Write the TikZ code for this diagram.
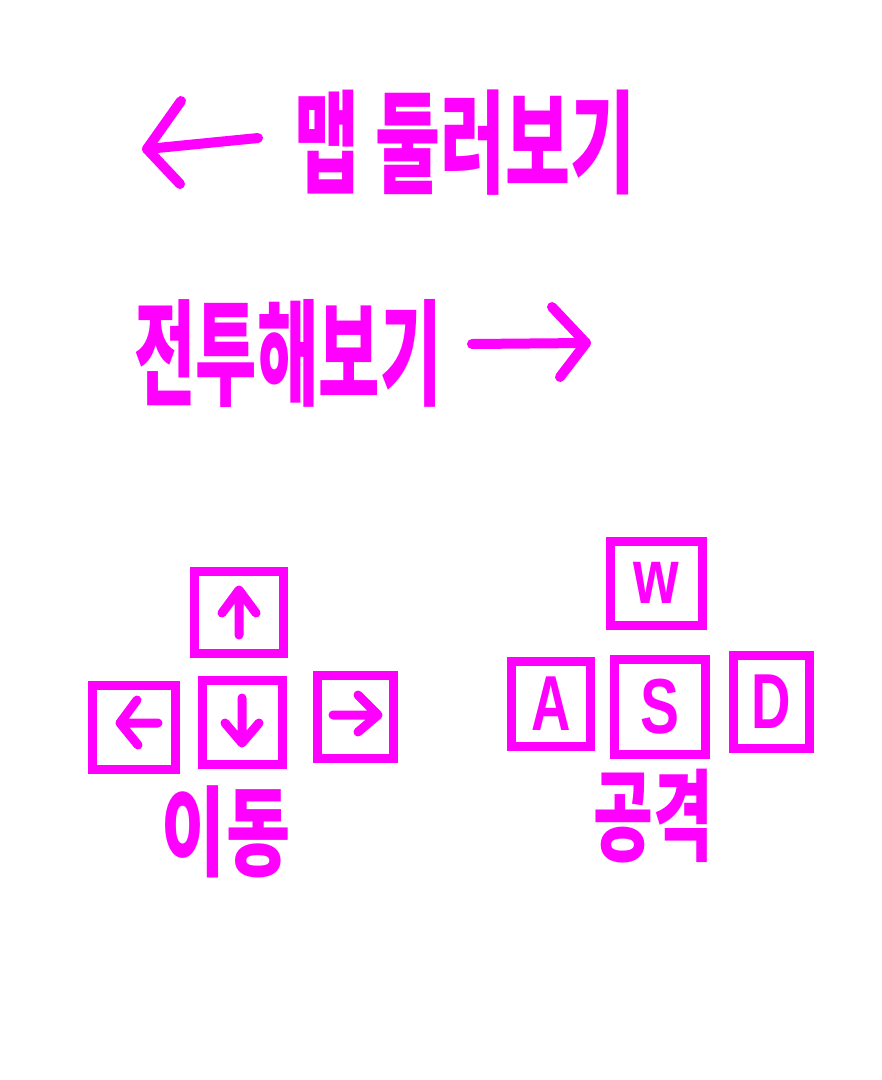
\documentclass[tikz,border=0pt]{standalone}
\usepackage{fontspec}
\usepackage{graphicx}
\newfontfamily\kr{Noto Sans CJK KR}
\setsansfont{Liberation Sans}
\definecolor{mag}{HTML}{FF00FF}
\begin{document}
\begin{tikzpicture}[x=1pt,y=-1pt,
  keybox/.style={draw=mag, line width=9pt, inner sep=0pt, text=mag, font=\sffamily\bfseries\fontsize{78}{78}\selectfont},
  krtext/.style={text=mag, inner sep=0pt, font=\kr\bfseries},
  bigarrow/.style={draw=mag, line width=10pt, line cap=round, line join=round},
  keyicon/.style={draw=mag, line width=9pt, line cap=round, line join=round}]
\useasboundingbox[fill=white] (0,0) rectangle (882,1080);

% top label with left arrow
\node[krtext] (map) at (465,143) {\fontsize{112}{112}\selectfont\scalebox{0.63}[1]{맵 둘러보기}};
\coordinate (la-tip) at (147,149);
\coordinate (la-end) at (258,138);
\coordinate (la-h1) at (181,101);
\coordinate (la-h2) at (180,184);
\draw[bigarrow] (la-end) -- (la-tip);
\draw[bigarrow] (la-h1) -- (la-tip) -- (la-h2);

% second label with right arrow
\node[krtext] (fight) at (288,353) {\fontsize{115}{115}\selectfont\scalebox{0.58}[1]{전투해보기}};
\coordinate (ra-start) at (472,344);
\coordinate (ra-tip) at (586,343);
\coordinate (ra-h1) at (552,307);
\coordinate (ra-h2) at (560,377);
\draw[bigarrow] (ra-start) -- (ra-tip);
\draw[bigarrow] (ra-h1) -- (ra-tip) -- (ra-h2);

% arrow keys
\node[keybox, minimum width=89pt, minimum height=82pt] (up) at (239,612) {};
\node[keybox, minimum width=83pt, minimum height=84pt] (left) at (134,727) {};
\node[keybox, minimum width=80pt, minimum height=84pt] (down) at (242,722) {};
\node[keybox, minimum width=76pt, minimum height=83pt] (right) at (355,717) {};

\draw[keyicon, shift={(up.center)}] (0,23) -- (0,-22) (-17,1) -- (0,-22) -- (17,1);
\draw[keyicon, shift={(left.center)}] (24,-4) -- (-14,-4) (3,-27) -- (-14,-4) -- (4,18);
\draw[keyicon, shift={(down.center)}] (0,-24) -- (0,21) (-17,1) -- (0,21) -- (17,1);
\draw[keyicon, shift={(right.center)}] (-22,-2) -- (23,-2) (3,-22) -- (23,-2) -- (3,15);

\node[krtext] (move) at (226,832) {\fontsize{98}{98}\selectfont\scalebox{0.71}[1]{이동}};

% WASD keys
\node[keybox, minimum width=92pt, minimum height=84pt] (w) at (656,583) {\scalebox{0.75}[1]{w}};
\node[keybox, minimum width=79pt, minimum height=85pt] (a) at (551,704) {\scalebox{0.7}[1]{A}};
\node[keybox, minimum width=91pt, minimum height=95pt] (s) at (660,707) {\scalebox{0.75}[1]{S}};
\node[keybox, minimum width=76pt, minimum height=93pt] (d) at (771,702) {\scalebox{0.7}[1]{D}};

\node[krtext] (attack) at (653,816) {\fontsize{100}{100}\selectfont\scalebox{0.65}[1]{공격}};
\end{tikzpicture}
\end{document}
